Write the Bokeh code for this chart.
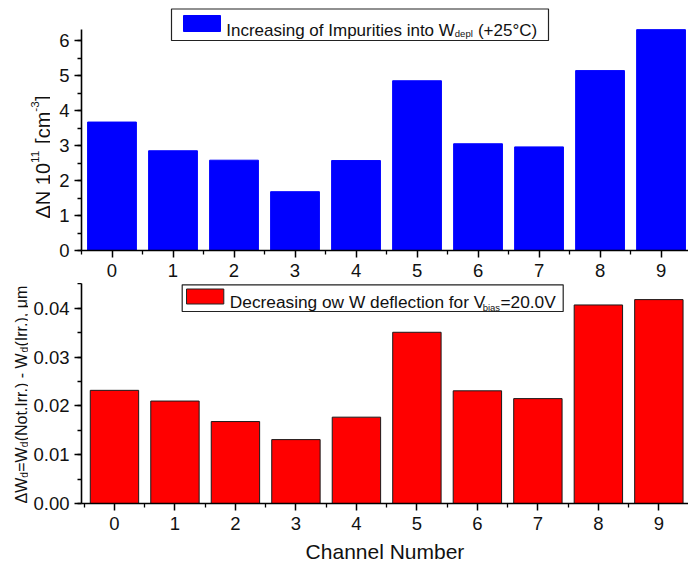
import math
from bokeh.plotting import figure
from bokeh.layouts import column, row
from bokeh.core.properties import value
from bokeh.models import (Range1d, FixedTicker, SingleIntervalTicker, Label, BoxAnnotation,
                          PrintfTickFormatter, ColumnDataSource)
from bokeh.embed import file_html
from bokeh.resources import INLINE

# ---------------- data ----------------
channels = [0, 1, 2, 3, 4, 5, 6, 7, 8, 9]
impurity_increase = [3.67, 2.85, 2.58, 1.68, 2.57, 4.85, 3.05, 2.96, 5.14, 6.31]
width_decrease = [0.0232, 0.0210, 0.0168, 0.0131, 0.0177, 0.0351, 0.0231, 0.0215, 0.0407, 0.0418]
x_ticks = channels
x_minor_ticks = [c - 0.5 for c in channels] + [9.5]
x_label = "Channel Number"
top_y_label = [("ΔN 10", 0), ("11", 1), (" [cm", 0), ("-3", 1), ("]", 0)]
bottom_y_label = [("ΔW", 0), ("d", -1), ("=W", 0), ("d", -1),
                  ("(Not.Irr.) - W", 0), ("d", -1), ("(Irr.), μm", 0)]
top_legend = [("Increasing of Impurities into W", 0), ("depl", -1), (" (+25°C)", 0)]
bottom_legend = [("Decreasing ow W deflection for V", 0), ("bias", -1), ("=20.0V", 0)]

# ---------------- style ----------------
FONT = "Liberation Sans"
BLUE = "#0000FF"
RED = "#FF0000"
TXT = "#111111"
ARIAL = {' ': 278, '(': 333, ')': 333, '+': 584, ',': 278, '-': 333, '.': 278, '=': 584,
         '°': 400, 'Δ': 668, 'μ': 576, '[': 278, ']': 278, 'C': 722, 'D': 722, 'I': 278,
         'N': 722, 'V': 667, 'W': 944, 'a': 556, 'b': 556, 'c': 500, 'd': 556, 'e': 556,
         'f': 278, 'g': 556, 'h': 556, 'i': 222, 'l': 222, 'm': 833, 'n': 556, 'o': 556,
         'p': 556, 'r': 333, 's': 500, 't': 278, 'u': 556}


def text_width(s, size):
    return sum(ARIAL.get(ch, 556) for ch in s) / 1000.0 * size


PAGE_W = 688
FRAME_LEFT = 81              # page x of the plot frames' left edge
FRAME_W = PAGE_W - FRAME_LEFT


def make_fig(g, lab_w):
    g["frame_h"] = g["height"] - g["bt"] - g["bb"]
    g["Lx"] = FRAME_LEFT
    g["By"] = g["page_top"] + g["height"] - g["bb"]
    p = figure(width=PAGE_W - lab_w, height=g["height"], output_backend="svg", toolbar_location=None,
               x_range=Range1d(g["x0"], g["x1"]), y_range=Range1d(g["y0"], g["y1"]),
               min_border_left=FRAME_LEFT - lab_w, min_border_right=0,
               min_border_top=g["bt"], min_border_bottom=g["bb"])
    p.outline_line_color = None
    p.xgrid.visible = False
    p.ygrid.visible = False
    p.background_fill_color = "white"
    p.border_fill_color = "white"
    for ax in (p.xaxis[0], p.yaxis[0]):
        ax.axis_line_width = 1.6
        ax.axis_line_color = "black"
        ax.major_tick_in = 0
        ax.major_tick_out = 7
        ax.minor_tick_in = 0
        ax.minor_tick_out = 4
        ax.major_tick_line_width = 1.5
        ax.minor_tick_line_width = 1.3
        ax.major_tick_line_color = "black"
        ax.minor_tick_line_color = "black"
        ax.major_label_text_font = FONT
        ax.major_label_text_font_size = "18.5px"
        ax.major_label_text_color = TXT
        ax.axis_label_text_font = FONT
        ax.axis_label_text_font_style = "normal"
        ax.axis_label_text_font_size = "21px"
        ax.axis_label_text_color = TXT
        ax.major_label_standoff = 5
    p.xaxis.major_label_standoff = 6
    p.xaxis.ticker = FixedTicker(ticks=x_ticks, minor_ticks=x_minor_ticks)
    return p


def label_fig(width, g):
    """Narrow figure left of a chart; its frame is aligned with the chart's frame and its
    y data equals minus the page y, x data equals pixels from its left edge."""
    p = figure(width=width, height=g["height"], output_backend="svg", toolbar_location=None,
               x_range=Range1d(0, width), y_range=Range1d(-g["By"], -(g["By"] - g["frame_h"])),
               x_axis_location=None, y_axis_location=None,
               min_border_left=0, min_border_right=0,
               min_border_top=g["bt"], min_border_bottom=g["bb"])
    p.outline_line_color = None
    p.grid.visible = False
    p.background_fill_color = "white"
    p.border_fill_color = "white"
    return p


def add_text(p, g, text, X, Y, size):
    p.add_layout(Label(x=g["x0"], y=g["y0"], x_units="data", y_units="data",
                       x_offset=X - g["Lx"], y_offset=g["By"] - Y, text=text,
                       text_font=FONT, text_font_size=f"{size:.1f}px", text_color=TXT,
                       text_align="left", text_baseline="alphabetic"))


def add_run(p, g, pieces, X, Y, size_main, size_small, shift):
    """Horizontal text run with sub/superscripts; kind=1 superscript, kind=-1 subscript."""
    pos = X
    for txt, kind in pieces:
        size = size_small if kind else size_main
        body = txt.lstrip(" ")
        pos += text_width(txt[:len(txt) - len(body)], size)
        add_text(p, g, body, pos, Y - kind * shift, size)
        pos += text_width(body, size) + (0.4 if kind else 0)


def add_vertical_run(p, pieces, X, Y, size_main, size_small, shift):
    """Text run rotated 90 deg (reading upwards), X/Y in page pixels."""
    xs, ys, texts, sizes = [], [], [], []
    pos = Y
    for txt, kind in pieces:
        size = size_small if kind else size_main
        body = txt.lstrip(" ")
        pos -= text_width(txt[:len(txt) - len(body)], size)
        xs.append(X - kind * shift)
        ys.append(-pos)
        texts.append(body)
        sizes.append(f"{size:.1f}px")
        pos -= text_width(body, size) + (0.4 if kind else 0)
    src = ColumnDataSource(dict(x=xs, y=ys, text=texts, size=sizes))
    p.text(x="x", y="y", text="text", text_font_size="size", source=src, angle=math.pi / 2,
           text_font=value(FONT), text_color=TXT, text_align="left", text_baseline="alphabetic")


def to_data(g, X, Y):
    ppx = FRAME_W / (g["x1"] - g["x0"])
    ppy = g["frame_h"] / (g["y1"] - g["y0"])
    return g["x0"] + (X - g["Lx"]) / ppx, g["y0"] + (g["By"] - Y) / ppy


def add_box(p, g, X0, Y0, X1, Y1, fill, line, lw):
    l, t = to_data(g, X0, Y0)
    r, b = to_data(g, X1, Y1)
    p.add_layout(BoxAnnotation(left=l, right=r, top=t, bottom=b, fill_color=fill, fill_alpha=1.0,
                               line_color=line, line_alpha=1.0, line_width=lw))


def add_legend(p, g, box, swatch, color, swatch_line, pieces, X, Y, size_main, size_sub, shift):
    add_box(p, g, *box, fill="white", line="#222222", lw=1.2)
    add_box(p, g, *swatch, fill=color, line=swatch_line, lw=1.0)
    add_run(p, g, pieces, X, Y, size_main, size_sub, shift)


# ---------------- top chart ----------------
TOP_H = 283
LAB_W1 = 50
top_g = dict(x0=-0.5, x1=9.45, y0=0.0, y1=250 / 35.0, height=TOP_H, bt=0, bb=33, page_top=0)
p1 = make_fig(top_g, LAB_W1)
src1 = ColumnDataSource(dict(channel=channels, value=impurity_increase))
p1.vbar(x="channel", top="value", width=0.8, bottom=0, source=src1,
        fill_color=BLUE, line_color=BLUE, line_width=1)
p1.yaxis.ticker = SingleIntervalTicker(interval=1, num_minor_ticks=2)
p1.yaxis.bounds = (0, 6.314)
add_legend(p1, top_g, (171, 8.5, 548, 40), (183, 15, 220, 31), BLUE, BLUE, top_legend,
           225.7, 29.5, 17, 9.5, 3.5)

lab1 = label_fig(LAB_W1, top_g)
add_vertical_run(lab1, top_y_label, 42, 218, 20, 11.7, 7.5)

# ---------------- bottom chart ----------------
BOT_H = 285
LAB_W2 = 28
bot_g = dict(x0=-0.545, x1=9.49, y0=0.0, y1=0.0451, height=BOT_H, bt=0, bb=65, page_top=TOP_H)
p2 = make_fig(bot_g, LAB_W2)
src2 = ColumnDataSource(dict(channel=channels, value=width_decrease))
p2.vbar(x="channel", top="value", width=0.8, bottom=0, source=src2,
        fill_color=RED, line_color="#1a1a1a", line_width=1)
p2.yaxis.ticker = SingleIntervalTicker(interval=0.01, num_minor_ticks=2)
p2.yaxis.formatter = PrintfTickFormatter(format="%.2f")
p2.xaxis.axis_label = x_label
p2.xaxis.axis_label_standoff = 7
add_legend(p2, bot_g, (181.7, 284.3, 562.7, 311), (186, 288.5, 223.3, 303.5), RED, "#222222",
           bottom_legend, 229.3, 301.5, 17.3, 9.5, 5.5)

lab2 = label_fig(LAB_W2, bot_g)
add_vertical_run(lab2, bottom_y_label, 20.5, 503, 16, 10, 3.5)

layout = column(row(lab1, p1, spacing=0), row(lab2, p2, spacing=0), spacing=0)
open("out.html", "w").write(file_html(layout, INLINE))
